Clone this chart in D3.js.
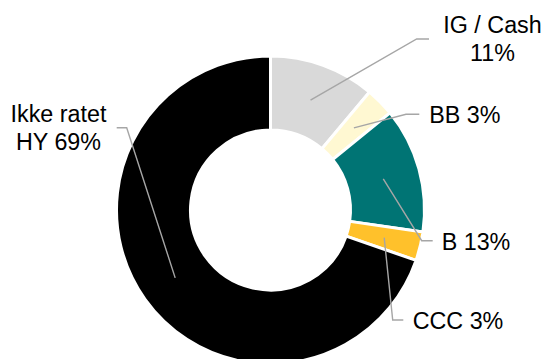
<!DOCTYPE html>
<html>
<head>
<meta charset="utf-8">
<script src="https://cdn.jsdelivr.net/npm/d3@7/dist/d3.min.js"></script>
<style>
  html, body { margin: 0; padding: 0; background: #fff; }
  svg { display: block; }
  text { font-family: "Liberation Sans", Arial, sans-serif; font-size: 23.3px; fill: #000; }
</style>
</head>
<body>
<svg id="chart" width="544" height="359"></svg>
<script>
// Portfolio split by credit rating (percent)
const categories = ["IG / Cash", "BB", "B", "CCC", "Ikke ratet HY"];
const shares = [11, 3, 13, 3, 69];
const labelLines = [["IG / Cash", "11%"], ["BB 3%"], ["B 13%"], ["CCC 3%"], ["Ikke ratet", "HY 69%"]];
const sliceColors = ["#d9d9d9", "#fff8d2", "#007474", "#ffc12b", "#000000"];

// Label placement: elbow of the leader line, end of its horizontal tail, text anchor
const labelLayout = [
  { elbow: [416.7, 39],    tail: 429,   tx: 492.5, ty: 33,    anchor: "middle" },
  { elbow: [406, 114.3],   tail: 419.3, tx: 429.3, ty: 123.3, anchor: "start" },
  { elbow: [421.7, 240.7], tail: 432.7, tx: 441.7, ty: 250,   anchor: "start" },
  { elbow: [392.7, 320],   tail: 403.3, tx: 412.7, ty: 329,   anchor: "start" },
  { elbow: [126.7, 127.7], tail: 116.7, tx: 58.5,  ty: 122.3, anchor: "middle" }
];

const cx = 270.5, cy = 210, outerR = 154, innerR = 80;
const lineHeight = 28;

const svg = d3.select("#chart");
const g = svg.append("g").attr("transform", `translate(${cx},${cy})`);

const data = categories.map((c, i) => ({ name: c, value: shares[i], color: sliceColors[i], lines: labelLines[i], layout: labelLayout[i] }));

const pie = d3.pie().value(d => d.value).sort(null);
const arc = d3.arc().innerRadius(innerR).outerRadius(outerR);
const arcs = pie(data);

g.selectAll("path.slice")
  .data(arcs)
  .join("path")
  .attr("class", "slice")
  .attr("d", arc)
  .attr("fill", d => d.data.color)
  .attr("stroke", "#fff")
  .attr("stroke-width", 3)
  .attr("stroke-linejoin", "miter");

// Leader lines from each slice centroid to its label
const leaders = svg.append("g");
arcs.forEach(a => {
  const [mx, my] = arc.centroid(a);
  const L = a.data.layout;
  leaders.append("polyline")
    .attr("points", [[cx + mx, cy + my], L.elbow, [L.tail, L.elbow[1]]].map(p => p.join(",")).join(" "))
    .attr("fill", "none")
    .attr("stroke", "#a6a6a6")
    .attr("stroke-width", 1.4);
});

// Labels
const labels = svg.append("g");
arcs.forEach(a => {
  const L = a.data.layout;
  const t = labels.append("text").attr("text-anchor", L.anchor);
  a.data.lines.forEach((line, i) => {
    t.append("tspan").attr("x", L.tx).attr("y", L.ty + i * lineHeight).text(line);
  });
});
</script>
</body>
</html>
